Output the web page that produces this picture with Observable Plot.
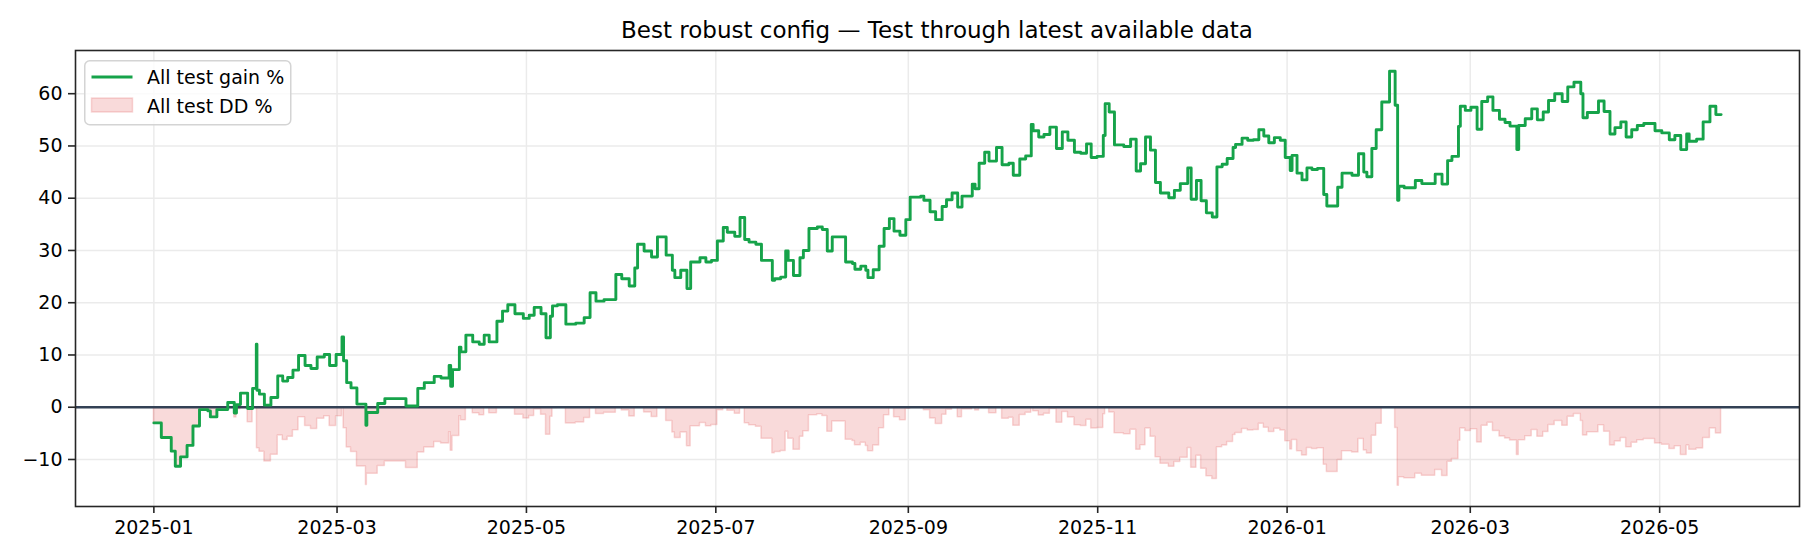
<!DOCTYPE html>
<html>
<head>
<meta charset="utf-8">
<script src="https://cdn.jsdelivr.net/npm/d3@7"></script>
<script src="https://cdn.jsdelivr.net/npm/@observablehq/plot@0.6"></script>
<style>
  body { margin: 0; background: #fff; font-family: "DejaVu Sans", sans-serif; }
  #wrap { position: relative; width: 1820px; height: 560px; }
  #title { position: absolute; left: 75px; width: 1724px; top: 19px; text-align: center; font-size: 23px; line-height: 1; color: #000; white-space: nowrap; }
  #legend { position: absolute; left: 84px; top: 60px; }
</style>
</head>
<body>
<div id="wrap">
  <div id="chart"></div>
  <div id="title"></div>
  <div id="legend"></div>
</div>
<script>
// ---- data ----
const startDate = "2025-01-01";
const titleText = "Best robust config — Test through latest available data";
const seriesNames = ["All test gain %", "All test DD %"];
// days since startDate at which each step begins
const dayOffsets = [
  0, 2.4, 5.6, 6.9, 8.6, 10.7, 12.6, 14.7, 17.4, 18.2, 20.3, 23.8, 25.9, 26.6, 27.9, 30.2, 31.8, 33.0, 33.2, 34.0,
  35.6, 37.7, 39.9, 41.5, 43.1, 44.8, 46.6, 48.7, 50.6, 52.6, 54.9, 56.6, 58.7, 60.6, 61.1, 62.1, 63.5, 65.4, 68.3, 68.6,
  72.1, 74.4, 81.2, 85.0, 87.1, 90.3, 92.5, 95.1, 95.6, 96.2, 98.4, 98.9, 100.5, 102.7, 104.8, 106.4, 108.0, 110.5, 112.3, 114.0,
  116.3, 119.0, 120.9, 122.5, 124.7, 126.3, 127.7, 128.4, 130.0, 132.7, 135.9, 138.6, 140.5, 142.4, 145.0, 148.8, 150.7, 153.1, 154.9, 155.8,
  157.9, 160.3, 162.2, 165.0, 167.0, 167.8, 169.7, 171.7, 172.9, 175.9, 177.8, 179.6, 181.5, 183.4, 184.7, 187.1, 188.8, 190.3, 191.7, 193.9,
  195.7, 199.2, 200.0, 201.9, 203.5, 204.3, 206.0, 208.1, 209.2, 211.0, 213.7, 215.3, 216.9, 218.5, 222.8, 225.0, 225.8, 227.7, 229.3, 230.0,
  231.7, 233.6, 235.2, 236.9, 238.4, 240.3, 242.2, 243.6, 247.0, 248.0, 250.0, 251.8, 253.9, 255.3, 257.1, 258.9, 260.3, 263.6, 264.5, 265.8,
  267.6, 269.0, 271.4, 273.2, 275.4, 276.8, 278.9, 280.8, 282.6, 283.2, 285.0, 286.7, 288.6, 290.7, 292.6, 294.4, 296.5, 298.5, 300.4, 301.9,
  303.8, 305.8, 306.4, 307.7, 309.4, 312.4, 314.6, 316.4, 317.8, 319.4, 321.0, 322.6, 324.2, 326.9, 328.7, 330.6, 333.0, 334.1, 335.8, 337.3,
  339.0, 340.9, 342.4, 344.1, 345.7, 347.6, 348.4, 350.5, 352.3, 354.2, 355.9, 357.5, 359.1, 360.9, 362.8, 364.4, 366.0, 366.6, 368.2, 369.8,
  371.4, 373.0, 374.8, 376.8, 377.8, 381.3, 382.7, 385.9, 388.0, 389.7, 390.7, 392.3, 393.7, 395.5, 398.0, 399.8, 400.6, 401.0, 402.7, 406.3,
  408.4, 412.7, 414.9, 416.7, 418.1, 420.2, 420.8, 422.4, 424.2, 426.2, 427.7, 429.6, 431.3, 433.4, 435.2, 436.8, 439.0, 439.6, 441.7, 443.8,
  445.6, 447.5, 449.2, 451.2, 453.6, 455.4, 457.4, 459.6, 460.3, 461.7, 465.3, 467.1, 469.0, 470.6, 472.5, 474.2, 476.0, 477.8, 479.9, 483.5,
  485.7, 488.1, 489.9, 491.8, 493.7, 494.5, 496.9, 499.0, 501.2, 503.1, 504.8
];
// All test gain %
const gainPct = [
  -3.0, -5.8, -8.4, -11.3, -9.5, -7.3, -3.6, -0.45, -0.7, -1.85, -0.45, 0.9, -1.1, 0.5, 2.7, -0.25, 3.6, 12.05, 3.25, 2.5,
  0.4, 1.85, 6.0, 5.0, 5.7, 7.1, 9.9, 8.0, 7.4, 9.6, 10.1, 8.0, 10.1, 13.45, 8.9, 4.7, 3.7, 0.6, -3.45, -1.0,
  0.7, 1.65, 0.25, 3.6, 4.7, 5.9, 5.6, 8.0, 4.0, 7.2, 11.5, 10.6, 13.8, 12.5, 12.05, 13.8, 12.5, 16.45, 18.4, 19.6,
  17.9, 17.0, 17.6, 19.1, 17.9, 13.3, 17.4, 19.4, 19.6, 15.9, 16.1, 17.15, 21.9, 20.3, 20.6, 25.4, 24.6, 23.2, 26.65, 31.2,
  29.9, 28.75, 32.6, 29.1, 26.2, 24.8, 26.2, 22.7, 27.8, 28.6, 27.8, 28.1, 31.8, 34.4, 33.5, 32.7, 36.3, 32.1, 31.6, 31.2,
  28.1, 24.3, 24.6, 24.9, 29.9, 28.1, 25.2, 28.6, 30.0, 34.2, 34.5, 34.0, 29.9, 32.6, 27.8, 27.5, 26.4, 27.0, 26.2, 24.8,
  26.3, 30.8, 34.2, 36.1, 33.7, 32.9, 35.9, 40.2, 40.4, 39.6, 37.4, 35.9, 38.4, 39.7, 41.0, 38.3, 40.4, 42.7, 41.8, 46.7,
  48.8, 47.1, 49.7, 46.4, 46.7, 44.4, 47.5, 48.1, 54.1, 52.9, 51.7, 52.2, 53.6, 49.5, 52.7, 51.1, 48.8, 48.6, 50.4, 47.8,
  48.0, 52.0, 58.1, 56.5, 50.2, 49.9, 51.3, 45.2, 46.6, 51.7, 49.2, 43.0, 41.0, 40.1, 41.5, 42.8, 45.8, 39.8, 43.4, 39.5,
  37.2, 36.4, 46.0, 46.5, 47.6, 49.7, 50.3, 51.5, 51.1, 51.2, 53.1, 51.9, 50.6, 51.6, 51.1, 47.8, 45.3, 48.2, 44.8, 43.5,
  45.8, 45.5, 45.7, 40.7, 38.5, 42.1, 44.8, 44.4, 48.5, 45.0, 44.1, 49.5, 53.1, 58.4, 64.3, 57.8, 39.6, 42.3, 42.0, 43.4,
  42.8, 44.6, 42.7, 47.2, 48.0, 53.75, 57.6, 56.8, 57.4, 53.2, 58.5, 59.4, 56.8, 55.1, 54.5, 53.8, 49.3, 53.9, 55.2, 57.1,
  55.0, 56.5, 58.7, 60.0, 58.5, 61.3, 62.2, 60.0, 55.4, 56.4, 58.6, 56.6, 52.3, 53.5, 54.6, 51.7, 53.1, 53.9, 54.3, 52.9,
  52.5, 51.2, 52.0, 49.3, 52.3, 50.9, 51.3, 54.6, 57.6, 56.0, 56.0
];
// All test DD %
const ddPct = [
  -3.0, -5.8, -8.4, -11.3, -9.5, -7.3, -3.6, -0.45, -0.7, -1.85, -0.45, 0, -1.98, -0.4, 0, -2.87, 0, 0, -7.85, -8.52,
  -10.4, -9.1, -5.4, -6.29, -5.67, -4.42, -1.92, -3.61, -4.15, -2.19, -1.74, -3.61, -1.74, 0, -4.01, -7.71, -8.59, -11.33, -14.9, -12.74,
  -11.24, -10.4, -11.64, -8.68, -7.71, -6.65, -6.92, -4.8, -8.33, -5.51, -1.72, -2.51, 0, -1.14, -1.54, 0, -1.14, 0, 0, 0,
  -1.42, -2.17, -1.67, -0.42, -1.42, -5.27, -1.84, -0.17, 0, -3.09, -2.93, -2.05, 0, -1.31, -1.07, 0, -0.64, -1.75, 0, 0,
  -0.99, -1.87, 0, -2.64, -4.83, -5.88, -4.83, -7.47, -3.62, -3.02, -3.62, -3.39, -0.6, 0, -0.67, -1.26, 0, -3.08, -3.45, -3.74,
  -6.02, -8.8, -8.58, -8.36, -4.7, -6.02, -8.14, -5.65, -4.62, -1.54, -1.32, -1.69, -4.7, -2.71, -6.24, -6.46, -7.26, -6.82, -7.41, -8.44,
  -7.34, -4.04, -1.54, -0.15, -1.91, -2.49, -0.29, 0, 0, -0.57, -2.14, -3.21, -1.42, -0.5, 0, -1.91, -0.43, 0, -0.63, 0,
  0, -1.14, 0, -2.2, -2.0, -3.54, -1.47, -1.07, 0, -0.78, -1.56, -1.23, -0.32, -2.99, -0.91, -1.95, -3.44, -3.57, -2.4, -4.09,
  -3.96, -1.36, 0, -1.01, -5.0, -5.19, -4.3, -8.16, -7.27, -4.05, -5.63, -9.55, -10.82, -11.39, -10.5, -9.68, -7.78, -11.57, -9.3, -11.76,
  -13.22, -13.73, -7.65, -7.34, -6.64, -5.31, -4.93, -4.17, -4.43, -4.36, -3.16, -3.92, -4.74, -4.11, -4.43, -6.51, -8.1, -6.26, -8.41, -9.23,
  -7.78, -7.97, -7.84, -11.01, -12.4, -10.12, -8.41, -8.67, -6.07, -8.29, -8.86, -5.44, -3.16, 0, 0, -3.96, -15.03, -13.39, -13.57, -12.72,
  -13.09, -11.99, -13.15, -10.41, -9.92, -6.42, -4.08, -4.56, -4.2, -6.76, -3.53, -2.98, -4.56, -5.6, -5.96, -6.39, -9.13, -6.33, -5.54, -4.38,
  -5.66, -4.75, -3.41, -2.62, -3.53, -1.83, -1.28, -2.62, -5.42, -4.81, -3.47, -4.69, -7.3, -6.57, -5.9, -7.67, -6.82, -6.33, -6.09, -6.94,
  -7.18, -7.97, -7.49, -9.13, -7.3, -8.16, -7.91, -5.9, -4.08, -5.05, -5.05
];
const xTickLabels = ["2025-01", "2025-03", "2025-05", "2025-07", "2025-09", "2025-11", "2026-01", "2026-03", "2026-05"];
const yTicks = [-10, 0, 10, 20, 30, 40, 50, 60];

// ---- build ----
const DAY = 864e5;
const t0 = Date.parse(startDate + "T00:00:00Z");
const rows = dayOffsets.map((d, i) => ({ date: new Date(t0 + d * DAY), gain: gainPct[i], dd: ddPct[i] }));
const xTicks = xTickLabels.map(s => new Date(s + "-01T00:00:00Z"));

const xMin = d3.min(dayOffsets), xMax = d3.max(dayOffsets), xPad = (xMax - xMin) * 0.05;
const yMin = Math.min(d3.min(gainPct), d3.min(ddPct)), yMax = Math.max(d3.max(gainPct), d3.max(ddPct));
const yPad = (yMax - yMin) * 0.05;

const GREEN = "#16a34a", RED = "#dc2626", GRID = "#ebebeb", SPINE = "#262626";

const chart = Plot.plot({
  width: 1820,
  height: 560,
  marginLeft: 75,
  marginRight: 21,
  marginTop: 50,
  marginBottom: 54,
  style: { fontFamily: "DejaVu Sans, sans-serif", fontSize: "19px", color: "#000", background: "transparent", overflow: "visible" },
  x: { type: "utc", domain: [new Date(t0 + (xMin - xPad) * DAY), new Date(t0 + (xMax + xPad) * DAY)] },
  y: { domain: [yMin - yPad, yMax + yPad] },
  marks: [
    Plot.gridX(xTicks, { stroke: GRID, strokeOpacity: 1, strokeWidth: 1.5 }),
    Plot.gridY(yTicks, { stroke: GRID, strokeOpacity: 1, strokeWidth: 1.5 }),
    Plot.areaY(rows, { x: "date", y: "dd", curve: "step-after", fill: RED, fillOpacity: 0.17, stroke: RED, strokeOpacity: 0.17, strokeWidth: 1.5 }),
    Plot.ruleY([0], { stroke: "#334155", strokeWidth: 2.7 }),
    Plot.lineY(rows, { x: "date", y: "gain", curve: "step-after", stroke: GREEN, strokeWidth: 2.9 }),
    Plot.frame({ stroke: SPINE, strokeWidth: 1.6 }),
    Plot.axisX(xTicks, { tickFormat: d3.utcFormat("%Y-%m"), tickSize: 7, tickPadding: 7, stroke: SPINE, strokeWidth: 1.6, fontSize: 19, label: null }),
    Plot.axisY(yTicks, { tickFormat: d3.format("d"), tickSize: 7, tickPadding: 6, stroke: SPINE, strokeWidth: 1.6, fontSize: 19, label: null })
  ]
});
document.getElementById("chart").appendChild(chart);
document.getElementById("title").textContent = titleText;

// legend
const lg = d3.select("#legend").append("svg").attr("width", 210).attr("height", 68)
  .style("font-family", "DejaVu Sans, sans-serif").style("font-size", "19px");
lg.append("rect").attr("x", 0.75).attr("y", 0.75).attr("width", 206).attr("height", 64).attr("rx", 5)
  .attr("fill", "rgba(255,255,255,0.8)").attr("stroke", "#d4d4d4").attr("stroke-width", 1.5);
lg.append("line").attr("x1", 7.5).attr("x2", 48.5).attr("y1", 17).attr("y2", 17)
  .attr("stroke", GREEN).attr("stroke-width", 2.9);
lg.append("rect").attr("x", 7.5).attr("y", 38).attr("width", 41).attr("height", 14)
  .attr("fill", RED).attr("fill-opacity", 0.17).attr("stroke", RED).attr("stroke-opacity", 0.17).attr("stroke-width", 1.5);
lg.append("text").attr("x", 63).attr("y", 23.8).text(seriesNames[0]);
lg.append("text").attr("x", 63).attr("y", 52.5).text(seriesNames[1]);
</script>
</body>
</html>
